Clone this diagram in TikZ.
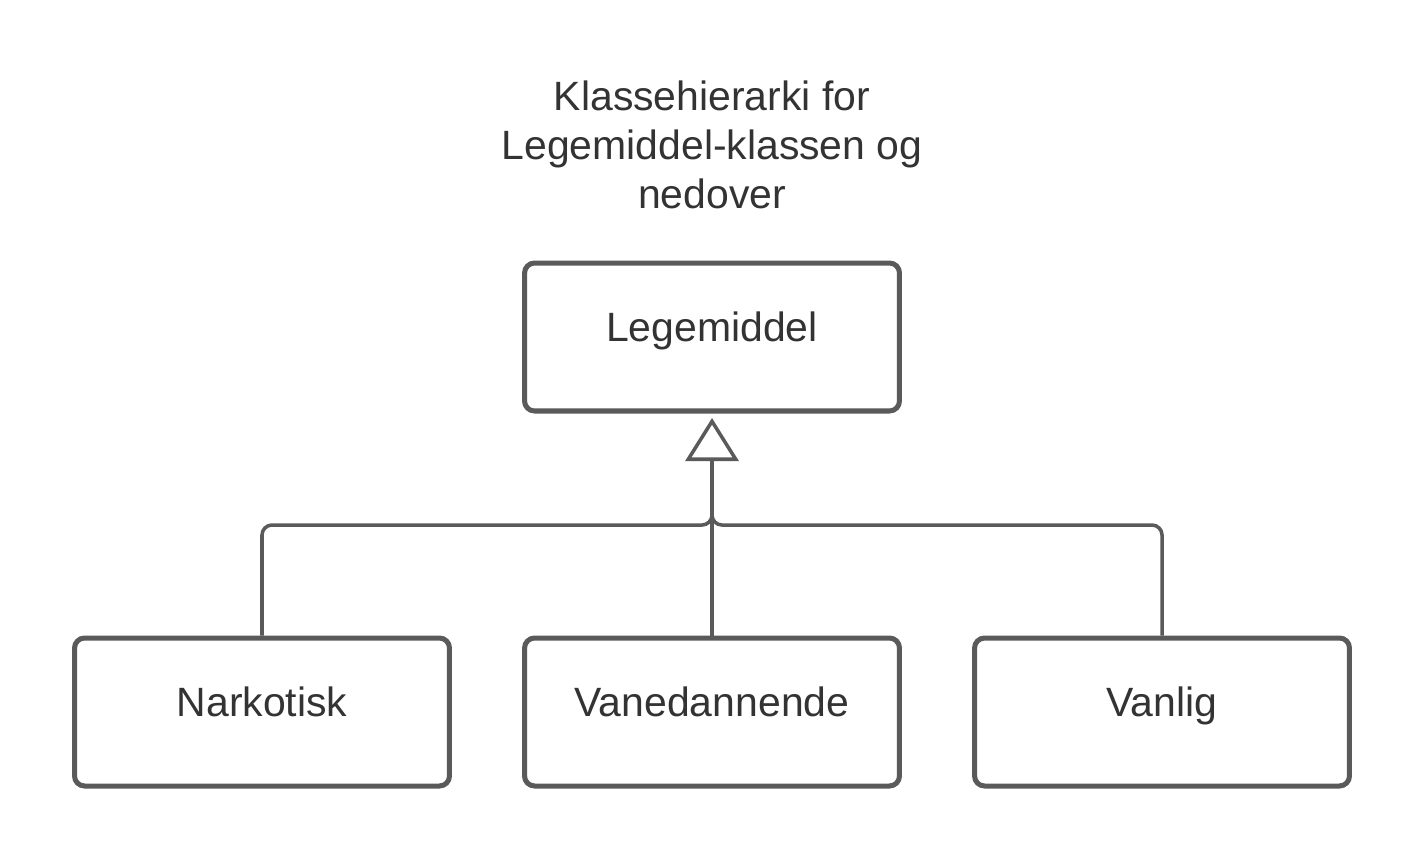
\documentclass[tikz,border=0pt]{standalone}
\usepackage{fontspec}
\setmainfont{Liberation Sans}
\usetikzlibrary{arrows.meta}
\definecolor{edge}{HTML}{5A5A5A}
\definecolor{txt}{HTML}{333333}
\begin{document}
\begin{tikzpicture}[x=0.02cm,y=-0.02cm,
  classbox/.style={draw=edge, line width=2.85pt, rounded corners=0.2cm,
    minimum width=7.5cm, minimum height=2.96cm, fill=white,
    text height=0.72em, text depth=0.24em,
    font=\fontsize{23.3pt}{28pt}\selectfont, text=txt},
  link/.style={draw=edge, line width=2pt, rounded corners=0.2cm}]
\useasboundingbox[fill=white] (0,0) rectangle (1425,863);
\node[align=center, text=txt, font=\fontsize{23.3pt}{27.9pt}\selectfont] (title) at (712,145)
  {Klassehierarki for\\Legemiddel-klassen og\\nedover};
\node[classbox] (L) at (712,337) {Legemiddel};
\node[classbox] (N) at (262,712) {Narkotisk};
\node[classbox] (V) at (712,712) {Vanedannende};
\node[classbox] (Va) at (1162,712) {Vanlig};
\coordinate (tip) at (712,418);
\coordinate (base) at (712,460);
\draw[link] (N.north) -- (262,525) -- (712,525) -- (base);
\draw[link] (Va.north) -- (1162,525) -- (712,525) -- (base);
\draw[link] (V.north) -- (base);
\draw[link, rounded corners=0pt, -{Triangle[open, length=0.86cm, width=1.06cm, line width=2pt]}] (base) -- (tip);
\end{tikzpicture}
\end{document}
